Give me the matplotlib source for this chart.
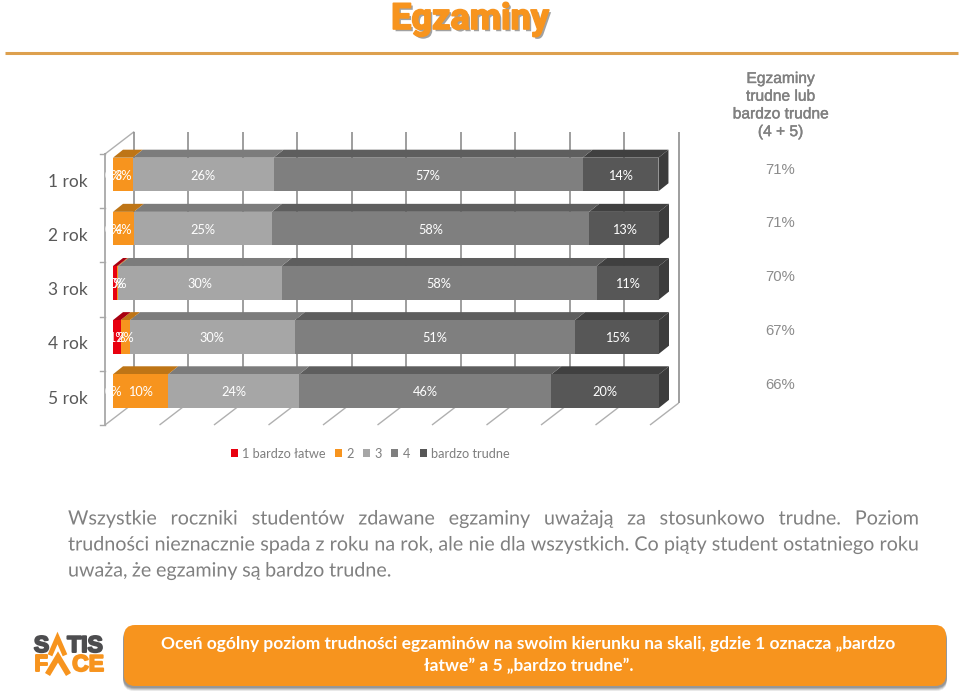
import matplotlib
matplotlib.use("Agg")
import matplotlib.pyplot as plt
import matplotlib.patheffects as pe
from matplotlib.patches import FancyBboxPatch, Polygon, Rectangle

W, H = 960, 696
title = "Egzaminy"
years = ["1 rok", "2 rok", "3 rok", "4 rok", "5 rok"]
series = ["1 bardzo łatwe", "2", "3", "4", "bardzo trudne"]
s1 = [0.0, 0.0, 0.8, 1.4, 0.0]
s2 = [3.6, 3.8, 0.2, 1.7, 10.1]
s3 = [25.8, 25.3, 29.9, 30.2, 24.0]
s4 = [56.6, 58.1, 57.7, 51.3, 46.2]
s5 = [13.9, 12.8, 11.4, 15.4, 19.7]
labels1 = ["0%", "0%", "1%", "1%", "0%"]
labels2 = ["3%", "4%", "0%", "2%", "10%"]
labels3 = ["26%", "25%", "30%", "30%", "24%"]
labels4 = ["57%", "58%", "58%", "51%", "46%"]
labels5 = ["14%", "13%", "11%", "15%", "20%"]
hard = ["71%", "71%", "70%", "67%", "66%"]
hard_head = ["Egzaminy", "trudne lub", "bardzo trudne", "(4 + 5)"]
xticks = [0, 10, 20, 30, 40, 50, 60, 70, 80, 90, 100]
para = ["Wszystkie roczniki studentów zdawane egzaminy uważają za stosunkowo trudne. Poziom",
        "trudności nieznacznie spada z roku na rok, ale nie dla wszystkich. Co piąty student ostatniego roku",
        "uważa, że egzaminy są bardzo trudne."]
question = ["Oceń ogólny poziom trudności egzaminów na swoim kierunku na skali, gdzie 1 oznacza „bardzo",
            "łatwe” a 5 „bardzo trudne”."]

front = ["#E8000F", "#F7941E", "#A6A6A6", "#7F7F7F", "#575757"]
topc = ["#A80010", "#BE7516", "#7C7C7C", "#5E5E5E", "#404040"]
side = "#3C3C3C"
grid = "#8E8E8E"
orange = "#F7941E"

fig = plt.figure(figsize=(W / 100, H / 100), dpi=100, facecolor="white")

# pixel overlay
ov = fig.add_axes([0, 0, 1, 1], zorder=0)
ov.set_xlim(0, W)
ov.set_ylim(H, 0)
ov.axis("off")

# chart axes
px_l, px_w, px_top, row_h = 113, 546, 147.4, 54.15
ax = fig.add_axes([px_l / W, 1 - (px_top + 5 * row_h) / H, px_w / W, 5 * row_h / H], zorder=2)
ax.patch.set_alpha(0)
ax.set_xlim(0, 100)
ax.set_ylim(4.5, -0.5)
ax.axis("off")

# walls and grid
dx, dy = 28.7, 22
x0, y0, y1 = 105, 154, 425
sx = 54.5 / 10
for t in xticks:
    xf = x0 + t * sx
    ov.plot([xf, xf + dx], [y1, y1 - dy], color=grid, lw=1.0, alpha=0.7, solid_capstyle="butt")
    ov.plot([xf + dx, xf + dx], [y0 - dy, y1 - dy], color=grid, lw=1.2, solid_capstyle="butt")
ov.plot([x0, x0], [y0, y1], color="#A8A8A8", lw=1.3)
ov.plot([x0, x0 + dx], [y0, y0 - dy], color=grid, lw=1.0, alpha=0.7)
for i in range(6):
    yy = y0 + i * (y1 - y0) / 5
    ov.plot([x0 - 5, x0], [yy, yy], color="#A8A8A8", lw=1.0)

# bars
bh = 0.62
ddx, ddy = 10 / 5.46, 8 / row_h
values = [s1, s2, s3, s4, s5]
labels = [labels1, labels2, labels3, labels4, labels5]
left = [0.0] * 5
handles = []
for k, vals in enumerate(values):
    b = ax.barh(range(5), vals, left=left, height=bh, color=front[k], linewidth=0, zorder=3, label=series[k])
    handles.append(b)
    for r, v in enumerate(vals):
        l, rt = left[r], left[r] + v
        top = r - bh / 2
        if v > 0:
            ax.add_patch(Polygon([(l, top), (rt, top), (rt + ddx, top - ddy), (l + ddx, top - ddy)],
                                 closed=True, fc=topc[k], ec="none", zorder=2.5 - 0.01 * k, clip_on=False))
        if k == 4:
            ax.add_patch(Polygon([(rt, top), (rt + ddx, top - ddy), (rt + ddx, top + bh - ddy), (rt, top + bh)],
                                 closed=True, fc=side, ec="none", zorder=2.5, clip_on=False))
        ax.text(l + v / 2, r + 0.02, labels[k][r], color="white", ha="center", va="center",
                family="Lato", fontsize=9.2, zorder=5, clip_on=False)
    left = [a + c for a, c in zip(left, vals)]

# year labels and right column
for r, y in enumerate(years):
    ov.text(87.5, 182 + r * row_h, y, ha="right", va="center", family="Lato", fontsize=12.5, color="#595959")
    ov.text(780.5, 169.5 + r * 53.9, hard[r], ha="center", va="center", family="Liberation Sans", fontsize=10.7, color="#8C8C8C")
for i, s in enumerate(hard_head):
    ov.text(780.5, 78.5 + i * 17.7, s, ha="center", va="center", family="Liberation Sans",
            fontsize=11.2, color="#808080",
            path_effects=[pe.withStroke(linewidth=0.3, foreground="#808080")])

# legend
leg = ax.legend(handles=handles, loc="center", bbox_to_anchor=((370 - px_l) / px_w, 1 - (453.5 - px_top) / (5 * row_h)),
                ncol=5, frameon=False, prop={"family": "Lato", "size": 9.2}, handlelength=0.55, handleheight=0.55,
                handletextpad=0.33, columnspacing=0.75, labelcolor="#7F7F7F", borderaxespad=0, borderpad=0)

# title and rule
ov.text(470, 19, title, ha="center", va="center", family="Roboto", fontweight="bold", fontsize=26,
        color=orange, path_effects=[pe.SimplePatchShadow(offset=(1.6, -1.6), shadow_rgbFace="#8A8A8A", alpha=0.8),
                                    pe.withStroke(linewidth=1.2, foreground=orange), pe.Normal()])
ov.plot([5, 958], [53, 53], color="#DDA04E", lw=2.2, solid_capstyle="butt")

# paragraph with justified lines (drawn as paths so all words share one baseline)
fig.canvas.draw()
rend = fig.canvas.get_renderer()
fs = 14.2
pcol = "#808080"
def place(line, y, justify):
    words = line.split(" ")
    ts = [ov.text(0, y, w, family="Lato", fontsize=fs, color=pcol, va="baseline", path_effects=[pe.Normal()]) for w in words]
    widths = [t.get_window_extent(rend).width for t in ts]
    gap = (851 - sum(widths)) / (len(words) - 1) if justify else fs * 0.33
    x = 68
    for t, wd in zip(ts, widths):
        t.set_x(x)
        x += wd + gap
for i, line in enumerate(para):
    place(line, 524.5 + i * 26, i < 2)

# question box
for off, a in [(5, 0.10), (4, 0.14), (3, 0.18), (2, 0.2)]:
    ov.add_patch(FancyBboxPatch((124 - 1, 625 + off), 822 + 2, 61, boxstyle="round,pad=0,rounding_size=11",
                                fc="#303030", ec="none", alpha=a, zorder=1))
ov.add_patch(FancyBboxPatch((124, 625), 822, 61, boxstyle="round,pad=0,rounding_size=11", fc=orange, ec="none", zorder=2))
for i, q in enumerate(question):
    ov.text(528.5, 643.5 + i * 23, q, ha="center", va="center", family="Lato", fontweight="bold", fontsize=12.5,
            color="white", zorder=3)

# logo
dark = "#4D4D4F"
for s, x in [("S", 41.5), ("TIS", 85)]:
    ov.text(x, 645.5, s, ha="center", va="center", family="Liberation Sans", fontweight="bold", fontsize=16.5, color=dark,
            path_effects=[pe.withStroke(linewidth=1.4, foreground=dark)])
for s, x in [("F", 41), ("CE", 88)]:
    ov.text(x, 664.5, s, ha="center", va="center", family="Liberation Sans", fontweight="bold", fontsize=16.5, color=orange,
            path_effects=[pe.withStroke(linewidth=1.4, foreground=orange)])
ov.plot([51, 57.5, 64], [653, 638, 653], color=orange, lw=3.6, solid_joinstyle="miter")
ov.plot([49, 58, 67], [672, 657, 672], color=orange, lw=4.2, solid_joinstyle="miter")

fig.savefig("out.png", dpi=100, facecolor="white")
